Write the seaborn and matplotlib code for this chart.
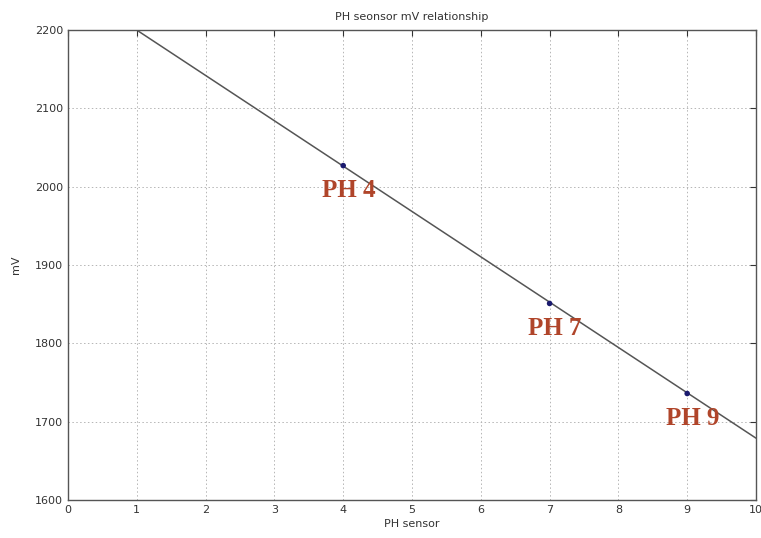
import matplotlib
matplotlib.use("Agg")
import matplotlib.pyplot as plt
import seaborn as sns
import pandas as pd

# Data
ph_points = [4, 7, 9]
mv_points = [2027, 1851, 1736]
point_labels = ["PH 4", "PH 7", "PH 9"]
line_ph = [1, 10]
line_mv = [2200, 1679]
x_ticks = list(range(0, 11))
y_ticks = [1600, 1700, 1800, 1900, 2000, 2100, 2200]

sns.set_style("white")
plt.rcParams['font.family'] = ['DejaVu Sans']

fig = plt.figure(figsize=(7.61, 5.38), dpi=100)
ax = fig.add_axes([0.0894, 0.0706, 0.9040, 0.8734])

line_df = pd.DataFrame({"ph": line_ph, "mv": line_mv})
pts_df = pd.DataFrame({"ph": ph_points, "mv": mv_points})

sns.lineplot(data=line_df, x="ph", y="mv", ax=ax, color="#555555", linewidth=1.1)
sns.scatterplot(data=pts_df, x="ph", y="mv", ax=ax, color="#1a1a6e", s=16,
                edgecolor="none", zorder=3)

for x, y, lab in zip(ph_points, mv_points, point_labels):
    ax.annotate(lab, (x, y), xytext=(4, -18), textcoords="offset points",
                ha="center", va="center", fontsize=18, fontweight="bold",
                family="Liberation Serif", color="#b0452a")

ax.set_xlim(0, 10)
ax.set_ylim(1600, 2200)
ax.set_xticks(x_ticks)
ax.set_yticks(y_ticks)
ax.grid(True, linestyle=(0, (1.5, 2.5)), color="#b5b5b5", linewidth=0.7)
ax.tick_params(direction="in", top=True, right=True, length=4, labelsize=8,
               colors="#333333", width=0.8)
for s in ax.spines.values():
    s.set_color("#555555")
    s.set_linewidth(1.0)

ax.set_title("PH seonsor mV relationship", fontsize=8, color="#333333", pad=7)
ax.set_xlabel("PH sensor", fontsize=8, color="#333333", labelpad=3)
ax.set_ylabel("mV", fontsize=8, color="#333333", labelpad=10)

fig.savefig("out.png", dpi=100)
